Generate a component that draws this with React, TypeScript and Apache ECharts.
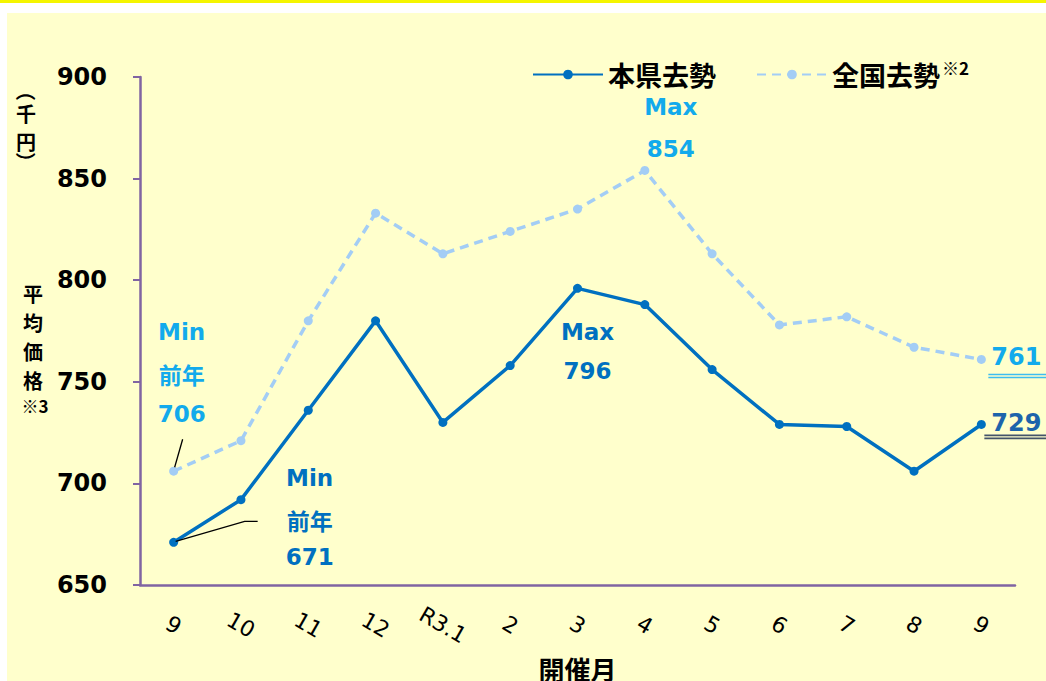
import React, { useEffect, useRef } from "react";
import * as echarts from "echarts";

const categories = ["9", "10", "11", "12", "R3.1", "2", "3", "4", "5", "6", "7", "8", "9"];
const prefName = "本県去勢";
const nationalName = "全国去勢";
const prefValues = [671, 692, 736, 780, 730, 758, 796, 788, 756, 729, 728, 706, 729];
const nationalValues = [706, 721, 780, 833, 813, 824, 835, 854, 813, 778, 782, 767, 761];
const yMin = 650;
const yMax = 900;
const yStep = 50;
const yNameUnit = ["（", "千", "円", "）"];
const yNameMain = ["平", "均", "価", "格"];
const yNameNote = "※3";
const xName = "開催月";

const CJK = '"Noto Sans CJK JP", "Noto Sans", sans-serif';
const NUM = '"DejaVu Sans", "Noto Sans", sans-serif';
const BLUE = "#0070c0";
const LIGHT = "#a3cdf5";
const CYAN = "#12aaec";
const AXIS = "#8064a2";

export default function App() {
  const ref = useRef<HTMLDivElement>(null);
  useEffect(() => {
    document.body.style.margin = "0";
    const chart = echarts.init(ref.current!, null, { renderer: "svg" });
    chart.setOption({
      animation: false,
      grid: { left: 140, right: 31, top: 77, bottom: 96, containLabel: false, outerBoundsMode: "none" },
      legend: {
        left: 527,
        top: 54,
        itemGap: 40,
        itemWidth: 70,
        itemHeight: 12,
        data: [prefName, nationalName],
        formatter: (n: string) => (n === nationalName ? `{n|${n}}{s|※2}` : `{n|${n}}`),
        textStyle: {
          color: "#000",
          rich: {
            n: { fontSize: 27, fontWeight: "bold", fontFamily: CJK, color: "#000" },
            s: { fontSize: 17, fontWeight: "bold", fontFamily: CJK, color: "#000", verticalAlign: "top", padding: [0, 0, 14, 2] },
          },
        },
      },
      xAxis: {
        type: "category",
        data: categories,
        boundaryGap: true,
        name: xName,
        nameLocation: "middle",
        nameGap: 70,
        nameTextStyle: { fontSize: 26, fontWeight: "bold", fontFamily: CJK, color: "#000", verticalAlign: "top" },
        axisLine: { lineStyle: { color: AXIS, width: 2.5 } },
        axisTick: { alignWithLabel: true, length: 6, lineStyle: { color: AXIS, width: 2 } },
        axisLabel: {
          rotate: -30,
          align: "center",
          verticalAlign: "middle",
          margin: 40,
          fontSize: 22,
          color: "#000",
          fontFamily: NUM,
          interval: 0,
        },
        splitLine: { show: false },
      },
      yAxis: {
        type: "value",
        min: yMin,
        max: yMax,
        interval: yStep,
        axisLine: { show: true, lineStyle: { color: AXIS, width: 2.5 } },
        axisTick: { show: true, length: 7, lineStyle: { color: AXIS, width: 2 } },
        axisLabel: { fontSize: 24, fontWeight: "bold", color: "#000", fontFamily: NUM, margin: 33 },
        splitLine: { show: false },
      },
      series: [
        {
          name: prefName,
          type: "line",
          data: prefValues,
          symbol: "circle",
          symbolSize: 9,
          lineStyle: { color: BLUE, width: 3.5 },
          itemStyle: { color: BLUE },
          z: 4,
        },
        {
          name: nationalName,
          type: "line",
          data: nationalValues,
          symbol: "circle",
          symbolSize: 9,
          lineStyle: { color: LIGHT, width: 3.5, type: [9, 6] },
          itemStyle: { color: LIGHT },
          z: 3,
        },
      ],
    });

    const P = (i: number, v: number) => chart.convertToPixel({ seriesIndex: 0 }, [i, v]) as number[];
    const txt = (x: number, y: number, text: string, fill: string, size = 23, align = "center", font = NUM) => ({
      type: "text",
      x,
      y,
      z: 10,
      style: { text, fill, fontSize: size, fontWeight: "bold", fontFamily: font, align, verticalAlign: "middle" },
    });
    const g: any[] = [];

    // Max national
    const iMaxN = nationalValues.indexOf(Math.max(...nationalValues));
    const pMaxN = P(iMaxN, nationalValues[iMaxN]);
    g.push(txt(pMaxN[0] + 26, pMaxN[1] - 63, "Max", CYAN));
    g.push(txt(pMaxN[0] + 26, pMaxN[1] - 21, String(nationalValues[iMaxN]), CYAN));
    // Max pref
    const iMaxP = prefValues.indexOf(Math.max(...prefValues));
    const pMaxP = P(iMaxP, prefValues[iMaxP]);
    g.push(txt(pMaxP[0] + 10, pMaxP[1] + 44, "Max", BLUE));
    g.push(txt(pMaxP[0] + 10, pMaxP[1] + 83, String(prefValues[iMaxP]), BLUE));
    // Min national (previous year)
    const pMinN = P(0, nationalValues[0]);
    g.push(txt(pMinN[0] + 8, pMinN[1] - 139, "Min", CYAN));
    g.push(txt(pMinN[0] + 8, pMinN[1] - 97, "前年", CYAN, 23, "center", CJK));
    g.push(txt(pMinN[0] + 8, pMinN[1] - 57, String(nationalValues[0]), CYAN));
    g.push({ type: "line", z: 10, shape: { x1: pMinN[0] + 9, y1: pMinN[1] - 32, x2: pMinN[0] + 1, y2: pMinN[1] - 4 }, style: { stroke: "#000", lineWidth: 1.3 } });
    // Min pref (previous year)
    const pMinP = P(0, prefValues[0]);
    g.push(txt(pMinP[0] + 136, pMinP[1] - 64, "Min", BLUE));
    g.push(txt(pMinP[0] + 136, pMinP[1] - 22, "前年", BLUE, 23, "center", CJK));
    g.push(txt(pMinP[0] + 136, pMinP[1] + 15, String(prefValues[0]), BLUE));
    g.push({ type: "polyline", z: 10, shape: { points: [[pMinP[0] + 2, pMinP[1] - 1], [pMinP[0] + 71, pMinP[1] - 21], [pMinP[0] + 84, pMinP[1] - 21]] }, style: { stroke: "#000", lineWidth: 1.3, fill: null } });
    // Last values
    const last = categories.length - 1;
    const pLN = P(last, nationalValues[last]);
    g.push(txt(pLN[0] + 10, pLN[1] - 2, String(nationalValues[last]), CYAN, 24, "left"));
    g.push({ type: "line", z: 10, shape: { x1: pLN[0] + 7, y1: pLN[1] + 15, x2: 1046, y2: pLN[1] + 15 }, style: { stroke: "#3dbdf0", lineWidth: 1.5 } });
    g.push({ type: "line", z: 10, shape: { x1: pLN[0] + 7, y1: pLN[1] + 18, x2: 1046, y2: pLN[1] + 18 }, style: { stroke: "#3dbdf0", lineWidth: 1.5 } });
    const pLP = P(last, prefValues[last]);
    g.push(txt(pLP[0] + 10, pLP[1] - 1, String(prefValues[last]), "#1d64ab", 24, "left"));
    g.push({ type: "line", z: 10, shape: { x1: pLP[0] + 3, y1: pLP[1] + 11, x2: 1046, y2: pLP[1] + 11 }, style: { stroke: "#44546a", lineWidth: 1.8 } });
    g.push({ type: "line", z: 10, shape: { x1: pLP[0] + 3, y1: pLP[1] + 14, x2: 1046, y2: pLP[1] + 14 }, style: { stroke: "#44546a", lineWidth: 1.8 } });

    // y axis name (vertical): unit in parentheses rotated, then label characters
    g.push({
      type: "group",
      x: 26,
      y: 91,
      rotation: -Math.PI / 2,
      children: [{ type: "text", z: 10, style: { text: yNameUnit[0], fill: "#000", fontSize: 20, fontWeight: "bold", fontFamily: CJK, align: "center", verticalAlign: "middle" } }],
    });
    g.push(txt(26, 113, yNameUnit[1], "#000", 20, "center", CJK));
    g.push(txt(26, 141, yNameUnit[2], "#000", 20, "center", CJK));
    g.push({
      type: "group",
      x: 26,
      y: 162,
      rotation: -Math.PI / 2,
      children: [{ type: "text", z: 10, style: { text: yNameUnit[3], fill: "#000", fontSize: 20, fontWeight: "bold", fontFamily: CJK, align: "center", verticalAlign: "middle" } }],
    });
    const mainYs = [293, 322, 351, 380];
    yNameMain.forEach((c, i) => g.push(txt(33, mainYs[i], c, "#000", 20, "center", CJK)));
    g.push(txt(35, 405, yNameNote, "#000", 17, "center", CJK));

    chart.setOption({ graphic: g });
    return () => chart.dispose();
  }, []);

  return (
    <div style={{ position: "relative", width: 1046, height: 681, background: "#fff", overflow: "hidden" }}>
      <div style={{ position: "absolute", left: 0, top: 0, width: 1046, height: 3, background: "#f5f500" }} />
      <div style={{ position: "absolute", left: 7, top: 13, width: 1039, height: 668, background: "#ffffcc" }} />
      <div ref={ref} style={{ position: "absolute", left: 0, top: 0, width: 1046, height: 681 }} />
    </div>
  );
}
